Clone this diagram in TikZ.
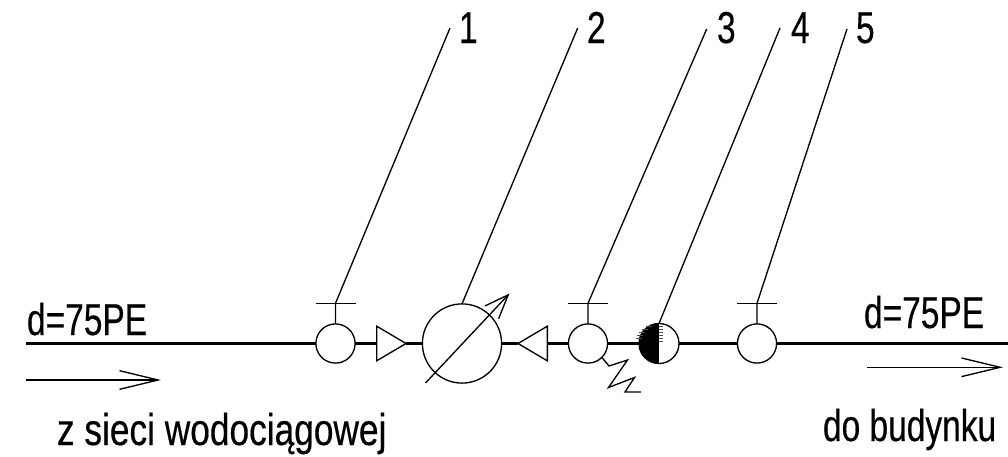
\documentclass[tikz,border=0pt]{standalone}
\usepackage{fontspec}
\usepackage{tikz}
\usetikzlibrary{positioning,calc}
\usetikzlibrary{arrows.meta,shapes.geometric}
\setmainfont[FakeStretch=0.75,FakeBold=0.4]{Liberation Sans}
\tikzset{
  thinline/.style={line width=1pt},
  pipeline/.style={line width=2.7pt},
  hatchline/.style={line width=.5pt,black!70},
  valve/.style={circle,draw,thinline,fill=white,minimum size=29.4pt,inner sep=0pt,outer sep=0pt},
  meter/.style={circle,draw,thinline,fill=white,minimum size=59.4pt,inner sep=0pt,outer sep=0pt},
  halfvalve/.style={valve,minimum size=30pt,path picture={\fill[black] (path picture bounding box.south west) rectangle (path picture bounding box.north);}},
  reducer/.style={isosceles triangle,isosceles triangle stretches,draw,thinline,fill=white,minimum width=26pt,minimum height=22pt,inner sep=0pt,outer sep=0pt},
  label/.style={inner sep=0pt,outer sep=0pt,anchor=base west,font=\fontsize{33.5}{36}\selectfont},
  flowarrow/.style={thinline,-{Straight Barb[length=29pt,width=14pt]}},
}
\begin{document}
\begin{tikzpicture}[x=.75pt,y=-.75pt]
      \useasboundingbox (0,0) rectangle (1008,457);

      \coordinate (pipestart) at (26,343.5);
      \coordinate (pipeend) at (1008,343.5);

      \node[valve] (valvea) at (335.5,343.5) {};
      \node[reducer,anchor=apex] (reducera) at (406,343.5) {};
      \node[meter] (watermeter) at (462,343.5) {};
      \node[reducer,shape border rotate=180,anchor=apex] (reducerb) at (518,343.5) {};
      \node[valve] (valveb) at (588,343.5) {};
      \node[halfvalve] (backflow) at (659,343.5) {};
      \node[valve] (valvec) at (757,343.5) {};

      \draw[pipeline] (pipestart) -- (valvea);
      \draw[pipeline] (valvea) -- (reducera.west);
      \draw[pipeline] (reducera.east) -- (watermeter);
      \draw[pipeline] (watermeter) -- (reducerb.west);
      \draw[pipeline] (reducerb.east) -- (valveb);
      \draw[pipeline] (valveb) -- (backflow);
      \draw[pipeline] (backflow) -- (valvec);
      \draw[pipeline] (valvec) -- (pipeend);

      \draw[hatchline] (646,326.5) -- (652,326.5) (642,329.5) -- (648,329.5) (639,332.5) -- (645,332.5) (637,335.5) -- (643,335.5) (636,338.5) -- (642,338.5);
      \draw[hatchline] (659,326.5) -- (662.5,326.5) (659,329.5) -- (662.5,329.5) (659,332.5) -- (662.5,332.5) (659,335.5) -- (662.5,335.5) (659,338.5) -- (662.5,338.5) (659,341) -- (662.5,341);

      \coordinate (bara) at (335.5,303.3);
      \coordinate (barb) at (588,303.3);
      \coordinate (barc) at (757,303.3);
      \coordinate (leada) at (450,28);
      \coordinate (leadb) at (577.7,28);
      \coordinate (leadc) at (706.7,29);
      \coordinate (leadd) at (780,28);
      \coordinate (leade) at (847,29);

      \draw[thinline] (valvea) -- (bara) -- (leada);
      \draw[thinline] (bara) ++(-20,0) -- ++(40,0);
      \draw[thinline] (watermeter.north) -- (leadb);
      \draw[thinline] (valveb) -- (barb) -- (leadc);
      \draw[thinline] (barb) ++(-20,0) -- ++(40,0);
      \draw[thinline] (backflow.north) -- (leadd);
      \draw[thinline] (valvec) -- (barc) -- (leade);
      \draw[thinline] (barc) ++(-20,0) -- ++(40,0);

      \coordinate (meterfoot) at (425.5,383);
      \coordinate (metertip) at (509.5,293.5);
      \draw[thinline,-{Straight Barb[length=18pt,width=14pt]}] (meterfoot) -- (metertip);

      \draw[thinline] (valveb.-45) -- (609,366) -- (627.5,360) -- (608.5,387.5) -- (634.5,377.5) -- (625,392) -- (641,392);

      \coordinate (inflowa) at (26,380);
      \coordinate (inflowb) at (161,380);
      \coordinate (outflowa) at (867.3,367.3);
      \coordinate (outflowb) at (1003,367.3);
      \draw[flowarrow] (inflowa) -- (inflowb);
      \draw[flowarrow] (outflowa) -- (outflowb);

      \node[label] (numa) at (459,43) {1};
      \node[label] (numb) at (587,43) {2};
      \node[label] (numc) at (717,43) {3};
      \node[label] (numd) at (791,43) {4};
      \node[label] (nume) at (856,43) {5};

      \node[label] (sizea) at (27,335) {d=75PE};
      \node[label] (sizeb) at (864,328) {d=75PE};
      \node[label] (froma) at (57,445) {\addfontfeature{FakeStretch=0.79}z sieci wodociągowej};
      \node[label] (tob) at (823,441) {do budynku};
    \end{tikzpicture}
\end{document}
